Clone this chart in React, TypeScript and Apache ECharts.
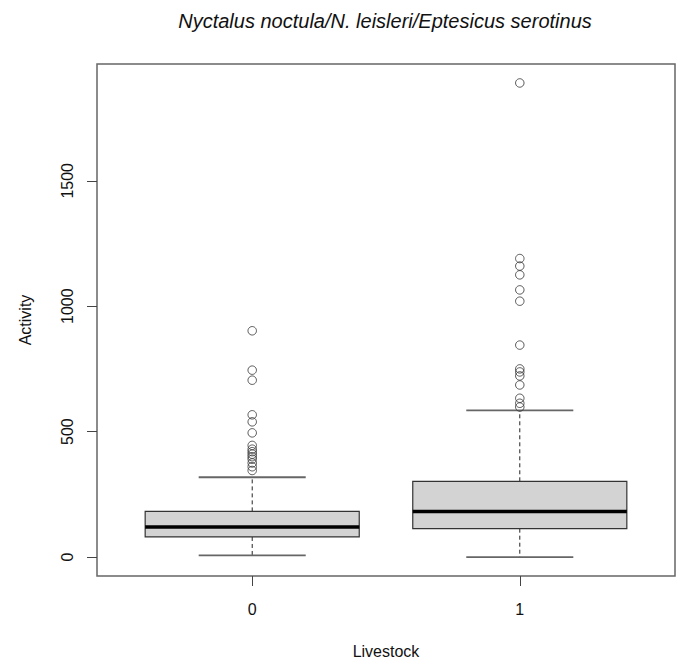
import React, { useEffect, useRef } from "react";
import * as echarts from "echarts";

const titleText = "Nyctalus noctula/N. leisleri/Eptesicus serotinus";
const categories = ["0", "1"];
const categoryPositions = [1, 2];
// [position, lower whisker, Q1, median, Q3, upper whisker]
const boxStats0 = [1, 7, 80, 120, 182, 318];
const boxStats1 = [2, 0, 113, 182, 302, 585];
const outliers0 = [902, 745, 705, 567, 539, 495, 445, 430, 420, 410, 400, 390, 375, 360, 345];
const outliers1 = [1890, 1190, 1160, 1125, 1065, 1020, 845, 750, 738, 722, 686, 633, 613, 598];
const yTicks = [0, 500, 1000, 1500];
const yName = "Activity";
const xName = "Livestock";

const FONT = "'Liberation Sans', Arial, Helvetica, sans-serif";

export default function App() {
  const ref = useRef<HTMLDivElement>(null);

  useEffect(() => {
    if (!ref.current) return;
    const chart = echarts.init(ref.current, null, { renderer: "svg" });

    const allValues = [
      ...boxStats0.slice(1),
      ...boxStats1.slice(1),
      ...outliers0,
      ...outliers1,
    ];
    const vMin = Math.min(...allValues);
    const vMax = Math.max(...allValues);
    const pad = (vMax - vMin) * 0.04;

    const option: any = {
      animation: false,
      backgroundColor: "#ffffff",
      textStyle: { fontFamily: FONT },
      graphic: [
        {
          type: "text",
          x: 385,
          y: 21,
          style: {
            text: titleText,
            fontSize: 20,
            fontStyle: "italic",
            fontFamily: FONT,
            fill: "#111",
            textAlign: "center",
            textVerticalAlign: "middle",
          },
        },
      ],
      grid: {
        left: 97,
        right: 8,
        top: 64,
        bottom: 81,
        show: true,
        borderColor: "#666",
        borderWidth: 1.5,
        backgroundColor: "transparent",
      },
      xAxis: {
        type: "value",
        min: 0.42,
        max: 2.58,
        splitLine: { show: false },
        axisLine: { show: false, onZero: false },
        axisTick: {
          show: true,
          length: 10,
          customValues: categoryPositions,
          lineStyle: { color: "#444", width: 1 },
        },
        axisLabel: {
          show: true,
          customValues: categoryPositions,
          formatter: (v: number) => categories[Math.round(v) - 1] ?? "",
          fontSize: 16,
          color: "#111",
          margin: 25,
          fontFamily: FONT,
        },
        name: xName,
        nameLocation: "middle",
        nameGap: 67,
        nameTextStyle: { fontSize: 16, color: "#111", fontFamily: FONT },
      },
      yAxis: {
        type: "value",
        min: vMin - pad,
        max: vMax + pad,
        splitLine: { show: false },
        axisLine: { show: false, onZero: false },
        axisTick: {
          show: true,
          length: 10,
          customValues: yTicks,
          lineStyle: { color: "#444", width: 1 },
        },
        axisLabel: {
          show: true,
          customValues: yTicks,
          formatter: (v: number) => String(Math.round(v)),
          rotate: 90,
          fontSize: 16,
          color: "#111",
          margin: 22,
          fontFamily: FONT,
        },
        name: yName,
        nameLocation: "middle",
        nameRotate: 90,
        nameGap: 64,
        nameTextStyle: { fontSize: 16, color: "#111", fontFamily: FONT },
      },
      series: [
        {
          type: "custom",
          data: [boxStats0, boxStats1],
          encode: { x: 0, y: [1, 2, 3, 4, 5] },
          renderItem: (params: any, api: any) => {
            const x = api.value(0);
            const lo = api.value(1);
            const q1 = api.value(2);
            const med = api.value(3);
            const q3 = api.value(4);
            const hi = api.value(5);
            const bw = api.size([0.8, 0])[0];
            const cw = bw / 2;
            const pLo = api.coord([x, lo]);
            const pQ1 = api.coord([x, q1]);
            const pMed = api.coord([x, med]);
            const pQ3 = api.coord([x, q3]);
            const pHi = api.coord([x, hi]);
            const cx = pMed[0];
            const dash = { stroke: "#222", lineWidth: 1, lineDash: [4, 3] };
            const cap = { stroke: "#666", lineWidth: 1.8 };
            return {
              type: "group",
              children: [
                { type: "line", shape: { x1: cx, y1: pQ1[1], x2: cx, y2: pLo[1] }, style: dash },
                { type: "line", shape: { x1: cx, y1: pQ3[1], x2: cx, y2: pHi[1] }, style: dash },
                { type: "line", shape: { x1: cx - cw / 2, y1: pLo[1], x2: cx + cw / 2, y2: pLo[1] }, style: cap },
                { type: "line", shape: { x1: cx - cw / 2, y1: pHi[1], x2: cx + cw / 2, y2: pHi[1] }, style: cap },
                {
                  type: "rect",
                  shape: { x: cx - bw / 2, y: pQ3[1], width: bw, height: pQ1[1] - pQ3[1] },
                  style: { fill: "#d3d3d3", stroke: "#333", lineWidth: 1.2 },
                },
                {
                  type: "line",
                  shape: { x1: cx - bw / 2, y1: pMed[1], x2: cx + bw / 2, y2: pMed[1] },
                  style: { stroke: "#000", lineWidth: 3.5 },
                },
              ],
            };
          },
          z: 2,
        },
        {
          type: "scatter",
          data: [
            ...outliers0.map((v) => [categoryPositions[0], v]),
            ...outliers1.map((v) => [categoryPositions[1], v]),
          ],
          symbol: "circle",
          symbolSize: 8.5,
          itemStyle: { color: "rgba(0,0,0,0)", borderColor: "#333", borderWidth: 1 },
          z: 3,
        },
      ],
    };

    chart.setOption(option);
    return () => chart.dispose();
  }, []);

  return (
    <div
      ref={ref}
      style={{ position: "fixed", left: 0, top: 0, width: 683, height: 664, background: "#fff" }}
    />
  );
}
